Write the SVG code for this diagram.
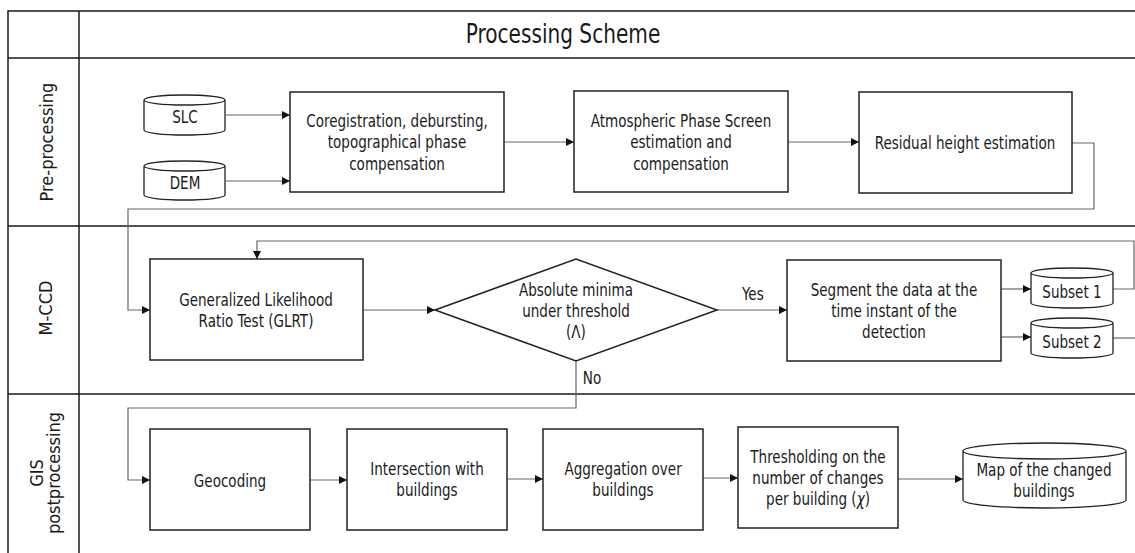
<svg xmlns="http://www.w3.org/2000/svg" width="1135" height="553" viewBox="0 0 1135 553">
<style>
.frame{fill:none;stroke:#1a1a1a;stroke-width:1.5}
.box{fill:#fff;stroke:#222;stroke-width:1.5}
.cyl{fill:#fff;stroke:#222;stroke-width:1.3}
.con{fill:none;stroke:#666;stroke-width:1.2}
text{font-family:"DejaVu Sans Condensed","Liberation Sans",sans-serif;fill:#1a1a1a;text-anchor:middle}
.t{font-size:17.5px;transform-box:fill-box;transform-origin:center;transform:scaleX(0.86)}
.lab{font-size:18px}
.title{font-size:26px;transform-box:fill-box;transform-origin:center;transform:scaleX(0.86)}
</style>
<defs>
<marker id="ah" viewBox="0 0 10 10" refX="10" refY="5" markerWidth="8" markerHeight="8" markerUnits="userSpaceOnUse" orient="auto">
<path d="M0,0 L10,5 L0,10 z" fill="#111"/>
</marker>
</defs>
<rect width="1135" height="553" fill="#fff"/>
<g id="frame">
<path class="frame" d="M8,553 V11 H1135 M79,11 V553 M8,58 H1135 M8,226 H1135 M8,394 H1135"/>
<text class="title" x="563" y="43">Processing Scheme</text>
<text class="lab" transform="translate(53,142) rotate(-90)">Pre-processing</text>
<text class="lab" transform="translate(52,308) rotate(-90)">M-CCD</text>
<text class="lab" transform="translate(43,473) rotate(-90)">GIS</text>
<text class="lab" transform="translate(60,473) rotate(-90)">postprocessing</text>
</g>
<g id="connectors">
<path class="con" d="M226,115 H290" marker-end="url(#ah)"/>
<path class="con" d="M226,181 H290" marker-end="url(#ah)"/>
<path class="con" d="M504,142 H574" marker-end="url(#ah)"/>
<path class="con" d="M788,142 H859" marker-end="url(#ah)"/>
<path class="con" d="M1072,143 H1094 V209 H128 V310 H150" marker-end="url(#ah)"/>
<path class="con" d="M363,310 H435" marker-end="url(#ah)"/>
<path class="con" d="M717,310 H787" marker-end="url(#ah)"/>
<path class="con" d="M1001,289 H1031" marker-end="url(#ah)"/>
<path class="con" d="M1001,337 H1031" marker-end="url(#ah)"/>
<path class="con" d="M1113,289 H1134 V241 H257 V259" marker-end="url(#ah)"/>
<path class="con" d="M1113,338 H1135"/>
<path class="con" d="M576,361 V408 H128 V480 H150" marker-end="url(#ah)"/>
<path class="con" d="M310,480 H347" marker-end="url(#ah)"/>
<path class="con" d="M507,479 H543" marker-end="url(#ah)"/>
<path class="con" d="M703,478 H738" marker-end="url(#ah)"/>
<path class="con" d="M898,479 H963" marker-end="url(#ah)"/>
<text class="t" x="753" y="300">Yes</text>
<text class="t" x="592" y="384">No</text>
</g>
<g id="slc">
<path class="cyl" d="M144,100 V130 A40.5,5 0 0 0 225,130 V100 A40.5,5 0 0 0 144,100 A40.5,5 0 0 0 225,100"/>
<text class="t" x="185" y="123">SLC</text>
</g>
<g id="dem">
<path class="cyl" d="M144,166 V195 A40.5,5 0 0 0 225,195 V166 A40.5,5 0 0 0 144,166 A40.5,5 0 0 0 225,166"/>
<text class="t" x="185" y="189">DEM</text>
</g>
<g id="coreg">
<rect class="box" x="290" y="92" width="214" height="100"/>
<text class="t" x="397" y="127">Coregistration, debursting,</text>
<text class="t" x="397" y="148.5">topographical phase</text>
<text class="t" x="397" y="170">compensation</text>
</g>
<g id="aps">
<rect class="box" x="574" y="91" width="214" height="101"/>
<text class="t" x="681" y="127">Atmospheric Phase Screen</text>
<text class="t" x="681" y="148.5">estimation and</text>
<text class="t" x="681" y="170">compensation</text>
</g>
<g id="residual">
<rect class="box" x="859" y="92" width="213" height="101"/>
<text class="t" x="965" y="149">Residual height estimation</text>
</g>
<g id="glrt">
<rect class="box" x="150" y="259" width="213" height="101"/>
<text class="t" x="256" y="306">Generalized Likelihood</text>
<text class="t" x="256" y="327">Ratio Test (GLRT)</text>
</g>
<g id="decision">
<path class="box" d="M435,310 L576,259 L717,310 L576,361 z"/>
<text class="t" x="576" y="296">Absolute minima</text>
<text class="t" x="576" y="317">under threshold</text>
<text class="t" x="576" y="338">(Λ)</text>
</g>
<g id="segment">
<rect class="box" x="787" y="260" width="214" height="101"/>
<text class="t" x="894" y="296">Segment the data at the</text>
<text class="t" x="894" y="317">time instant of the</text>
<text class="t" x="894" y="338">detection</text>
</g>
<g id="subset1">
<path class="cyl" d="M1031,273 V303 A41,5 0 0 0 1113,303 V273 A41,5 0 0 0 1031,273 A41,5 0 0 0 1113,273"/>
<text class="t" x="1072" y="298">Subset 1</text>
</g>
<g id="subset2">
<path class="cyl" d="M1031,323 V353 A41,5 0 0 0 1113,353 V323 A41,5 0 0 0 1031,323 A41,5 0 0 0 1113,323"/>
<text class="t" x="1072" y="348">Subset 2</text>
</g>
<g id="geocoding">
<rect class="box" x="150" y="429" width="160" height="101"/>
<text class="t" x="230" y="487">Geocoding</text>
</g>
<g id="intersection">
<rect class="box" x="347" y="429" width="160" height="101"/>
<text class="t" x="427" y="475">Intersection with</text>
<text class="t" x="427" y="496">buildings</text>
</g>
<g id="aggregation">
<rect class="box" x="543" y="429" width="160" height="101"/>
<text class="t" x="623" y="475">Aggregation over</text>
<text class="t" x="623" y="496">buildings</text>
</g>
<g id="thresholding">
<rect class="box" x="738" y="427" width="160" height="101"/>
<text class="t" x="818" y="463">Thresholding on the</text>
<text class="t" x="818" y="484">number of changes</text>
<text class="t" x="818" y="505">per building (<tspan font-style="italic">χ</tspan>)</text>
</g>
<g id="map">
<path class="cyl" d="M963,451 V500 A81.5,8 0 0 0 1126,500 V451 A81.5,8 0 0 0 963,451 A81.5,8 0 0 0 1126,451"/>
<text class="t" x="1044" y="476">Map of the changed</text>
<text class="t" x="1044" y="497">buildings</text>
</g>
</svg>
